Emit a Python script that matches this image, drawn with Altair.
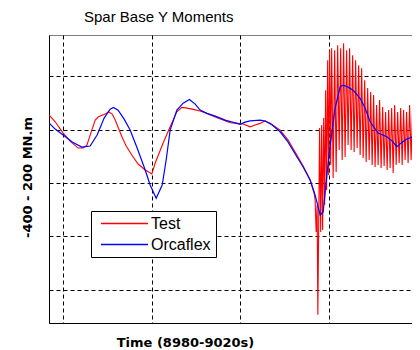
import altair as alt
import pandas as pd

# Orcaflex (blue) trace: time (s) and moment (MN.m)
orca_t = [8978.42, 8979.10, 8980.00, 8981.02, 8982.11, 8983.05, 8983.84, 8984.63, 8985.31, 8985.68,
          8986.21, 8986.89, 8987.57, 8988.36, 8989.27, 8989.83, 8990.51, 8991.19, 8991.64, 8992.09,
          8992.85, 8993.56, 8994.27, 8994.92, 8995.48, 8996.24, 8997.18, 8998.31, 9000.00, 9000.56,
          9001.13, 9002.26, 9002.82, 9003.62, 9004.52, 9005.42, 9006.41, 9007.12, 9007.91, 9008.47,
          9009.04, 9009.38, 9009.80, 9010.17, 9010.73, 9011.30, 9011.64, 9012.20, 9012.77, 9013.56,
          9014.12, 9014.69, 9015.59, 9016.58, 9017.18, 9017.71, 9018.19, 9018.84, 9019.44, 9020.00]
orca_v = [12.1, 0.9, -10.3, -23.4, -32.7, -30.8, -10.3, 21.5, 38.3, 41.5,
          36.4, 19.6, -0.9, -34.6, -75.7, -103.7, -128.6, -103.7, -57.0, -0.9,
          36.4, 49.5, 56.4, 47.7, 36.4, 30.3, 25.2, 17.8, 9.7, 14.0,
          16.4, 17.8, 15.9, 8.4, -4.1, -23.4, -50.8, -70.1, -94.4, -122.4,
          -159.8, -154.2, -85.0, -29.0, 40.2, 80.0, 83.2, 79.4, 73.8, 58.3,
          40.2, 14.6, -6.5, -13.5, -21.5, -32.1, -25.2, -17.8, -14.0, -13.5]

# Test (red) trace: time (s) and moment (MN.m)
test_t = [8978.42, 8979.10, 8980.00, 8980.79, 8981.69, 8982.26, 8982.68, 8983.24, 8983.62, 8983.99,
          8984.75, 8985.12, 8985.54, 8985.88, 8986.64, 8987.12, 8987.76, 8988.47, 8989.27, 8990.02,
          8990.40, 8990.85, 8991.30, 8992.09, 8992.85, 8993.41, 8994.01, 8994.69, 8995.48, 8996.24,
          8997.18, 8998.08, 8998.87, 8999.55, 9000.34, 9001.13, 9001.69, 9002.26, 9002.82, 9003.39,
          9004.52, 9005.42, 9006.41, 9007.12, 9007.91, 9008.36,
          9008.47, 9008.59, 9008.70, 9008.78, 9008.87, 9008.98, 9009.10, 9009.21, 9009.32, 9009.44,
          9009.55, 9009.66, 9009.77, 9009.89, 9010.00, 9010.11, 9010.23, 9010.34, 9010.51, 9010.68,
          9010.85, 9011.02, 9011.19, 9011.36, 9011.53, 9011.69, 9011.86, 9012.03, 9012.20, 9012.37,
          9012.54, 9012.71, 9012.88, 9013.05, 9013.22, 9013.39, 9013.56, 9013.73, 9013.90, 9014.07,
          9014.24, 9014.41, 9014.58, 9014.75, 9014.92, 9015.08, 9015.25, 9015.42, 9015.59, 9015.76,
          9015.93, 9016.10, 9016.27, 9016.44, 9016.61, 9016.78, 9016.95, 9017.12, 9017.29, 9017.46,
          9017.63, 9017.80, 9017.97, 9018.14, 9018.31, 9018.47, 9018.64, 9018.81, 9018.98, 9019.15,
          9019.32, 9019.49, 9019.66, 9019.83, 9020.00]
test_v = [27.1, 14.6, -6.5, -21.5, -34.6, -34.6, -29.0, -0.9, 17.8, 24.0,
          29.0, 33.3, 29.0, 17.8, -13.5, -30.8, -47.7, -64.5, -75.7, -83.2,
          -62.6, -43.9, -25.2, 5.2, 33.3, 41.5, 40.2, 37.8, 34.6, 30.3,
          23.4, 17.8, 12.7, 12.1, 10.3, 5.2, 8.4, 11.6, 16.4, 12.1,
          -0.9, -19.6, -47.7, -68.2, -94.4, -118.7,
          -131.8, -191.6, -141.1, -346.7, -187.8, 2.8, -191.6, 8.4, -187.8, 21.5,
          -141.1, 73.8, -113.3, 129.9, -85.0, 148.6, -66.4, 152.3, -90.6, 148.6,
          -79.4, 157.9, -38.3, 152.3, -57.0, 161.7, -51.4, 148.6, -29.0, 152.3,
          -38.3, 139.2, -42.1, 129.9, -34.6, 120.6, -47.7, 114.9, -53.3, 92.5,
          -60.7, 77.6, -57.0, 70.1, -66.4, 64.5, -70.1, 45.8, -66.4, 55.1,
          -72.0, 42.1, -68.2, 32.7, -75.7, 36.4, -72.0, 40.2, -81.3, 45.8,
          -66.4, 32.7, -62.6, 40.2, -66.4, 36.4, -57.0, 32.7, -62.6, 45.8,
          -57.0, 42.1, -66.4, 51.4, -19.6]

series_names = ["Test", "Orcaflex"]
series_colors = ["#ff0000", "#0000ff"]
x_ticks = [8980, 8990, 9000, 9010, 9020]
y_ticks = [-300, -200, -100, 0, 100]

test_df = pd.DataFrame({"t": test_t, "v": test_v, "series": "Test", "i": range(len(test_t))})
orca_df = pd.DataFrame({"t": orca_t, "v": orca_v, "series": "Orcaflex", "i": range(len(orca_t))})

x_enc = alt.X("t:Q", scale=alt.Scale(domain=[8978.4, 9019.42], nice=False, zero=False),
              axis=alt.Axis(values=x_ticks, labels=False, ticks=False, title="Time (8980-9020s)",
                            titleX=136, titleY=19, titleAlign="center", titleBaseline="middle"))
y_enc = alt.Y("v:Q", scale=alt.Scale(domain=[-362, 177], nice=False, zero=False),
              axis=alt.Axis(values=y_ticks, labels=False, ticks=False, title="-400 - 200 MN.m",
                            titleX=-22, titleY=142, titleAngle=270, titleAlign="center",
                            titleBaseline="middle"))
color_enc = alt.Color("series:N",
                      scale=alt.Scale(domain=series_names, range=series_colors),
                      legend=alt.Legend(title=None, orient="none", legendX=42, legendY=176,
                                        fillColor="white", strokeColor="black", padding=4.5,
                                        cornerRadius=0, symbolType="M-0.36,0H6.36", symbolSize=196,
                                        symbolStrokeWidth=1.5, labelOffset=39.5, rowPadding=5,
                                        labelFontSize=16, labelFont="Liberation Sans",
                                        labelColor="black"))

red = alt.Chart(test_df).mark_line(strokeWidth=1.1, clip=True).encode(
    x=x_enc, y=y_enc, color=color_enc, order="i:Q")
blue = alt.Chart(orca_df).mark_line(strokeWidth=1.2, clip=True).encode(
    x=x_enc, y=y_enc, color=color_enc, order="i:Q")

chart = alt.layer(red, blue).properties(
    width=363, height=288,
    title=alt.TitleParams("Spar Base Y Moments", anchor="start", dx=63, fontSize=15,
                          fontWeight="normal", font="Liberation Sans", color="black", offset=10),
    autosize=alt.AutoSizeParams(type="none"),
    padding={"left": 41, "top": 27, "right": 0, "bottom": 27},
).configure_view(stroke="#808080", strokeWidth=1).configure_axis(
    domainColor="black", domainWidth=1, grid=True, gridColor="black", gridDash=[4, 3],
    gridOpacity=1, gridWidth=1, titleFont="DejaVu Sans", titleFontSize=13,
    titleFontWeight="bold", titleColor="black")

chart.save("out.html", embed_options={"renderer": "svg", "actions": False})
